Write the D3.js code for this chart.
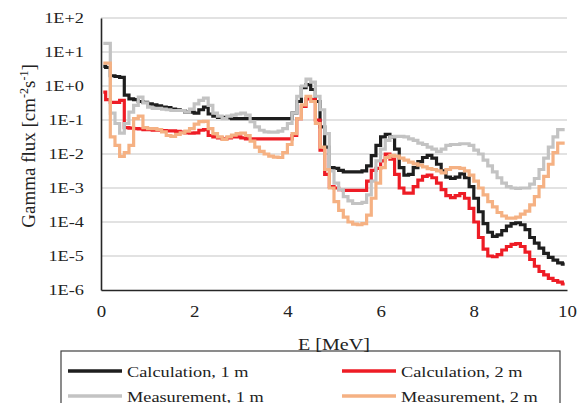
<!DOCTYPE html>
<html>
<head>
<meta charset="utf-8">
<script src="https://cdn.jsdelivr.net/npm/d3@7"></script>
<style>
  body { margin: 0; background: #fff; }
  svg text { font-family: "Liberation Serif", "Times New Roman", serif; fill: #222; }
</style>
</head>
<body>
<svg id="chart" width="581" height="403"></svg>
<script>
// bin lower edges [MeV], 0.1 MeV wide (first bin starts at 0.05)
const binStart = [0.05].concat(d3.range(1, 100).map(i => i / 10));
const binEnd = 9.95;

// gamma flux [cm-2 s-1] per bin
const calc1m = [
  3.8, 3.5, 2.0, 1.9, 1.8, 0.54, 0.42, 0.40, 0.35, 0.33,
  0.30, 0.28, 0.26, 0.24, 0.23, 0.21, 0.20, 0.19, 0.17, 0.17,
  0.16, 0.20, 0.24, 0.15, 0.13, 0.12, 0.12, 0.115, 0.11, 0.11,
  0.11, 0.11, 0.11, 0.11, 0.11, 0.11, 0.11, 0.11, 0.11, 0.11,
  0.11, 0.16, 0.35, 0.89, 1.1, 0.79, 0.35, 0.063, 0.016, 0.004,
  0.0038, 0.0033, 0.0030, 0.0030, 0.0030, 0.0030, 0.0032, 0.0045, 0.0089, 0.018,
  0.032, 0.038, 0.032, 0.014, 0.004, 0.0024, 0.0025, 0.004, 0.006, 0.0079,
  0.0091, 0.0076, 0.005, 0.0032, 0.0021, 0.0019, 0.0021, 0.0026, 0.002, 0.0011,
  5.0e-4, 2.0e-4, 8.9e-5, 5.0e-5, 3.8e-5, 4.2e-5, 5.6e-5, 7.6e-5, 8.9e-5, 9.5e-5,
  8.3e-5, 6.0e-5, 3.5e-5, 2.4e-5, 1.7e-5, 1.2e-5, 9.1e-6, 7.6e-6, 6.3e-6, 5.8e-6
];
const calc2m = [
  0.66, 0.40, 0.33, 0.33, 0.38, 0.060, 0.058, 0.056, 0.055, 0.052,
  0.052, 0.050, 0.050, 0.049, 0.048, 0.048, 0.046, 0.044, 0.042, 0.041,
  0.042, 0.050, 0.052, 0.035, 0.032, 0.030, 0.028, 0.030, 0.032, 0.032,
  0.030, 0.028, 0.028, 0.028, 0.028, 0.028, 0.028, 0.028, 0.028, 0.028,
  0.028, 0.035, 0.11, 0.25, 0.42, 0.40, 0.10, 0.013, 0.0025, 0.0011,
  0.0010, 8.9e-4, 8.5e-4, 8.5e-4, 8.5e-4, 8.5e-4, 8.5e-4, 0.0016, 0.0033, 0.0038,
  0.0063, 0.010, 0.0071, 0.0025, 0.0010, 7.1e-4, 7.1e-4, 0.0011, 0.0017, 0.0022,
  0.0024, 0.0020, 0.0014, 8.9e-4, 6.0e-4, 5.2e-4, 6.0e-4, 6.9e-4, 5.0e-4, 2.5e-4,
  1.0e-4, 3.5e-5, 1.6e-5, 1.0e-5, 9.5e-6, 1.1e-5, 1.5e-5, 1.9e-5, 2.2e-5, 2.3e-5,
  1.9e-5, 1.3e-5, 7.9e-6, 5.0e-6, 3.5e-6, 2.8e-6, 2.2e-6, 1.9e-6, 1.7e-6, 1.5e-6
];
const meas1m = [
  18, 18, 0.16, 0.079, 0.041, 0.079, 0.17, 0.27, 0.47, 0.32,
  0.24, 0.22, 0.22, 0.21, 0.20, 0.19, 0.19, 0.19, 0.17, 0.21,
  0.30, 0.38, 0.44, 0.27, 0.16, 0.13, 0.11, 0.13, 0.14, 0.15,
  0.16, 0.14, 0.089, 0.063, 0.050, 0.045, 0.044, 0.044, 0.047, 0.056,
  0.079, 0.16, 0.50, 1.0, 1.6, 1.3, 0.50, 0.20, 0.040, 0.0032,
  0.0014, 8.9e-4, 5.6e-4, 4.2e-4, 3.5e-4, 3.5e-4, 3.8e-4, 6.3e-4, 0.0016, 0.0063,
  0.014, 0.025, 0.032, 0.033, 0.033, 0.032, 0.028, 0.025, 0.021, 0.019,
  0.016, 0.014, 0.012, 0.014, 0.018, 0.019, 0.019, 0.020, 0.020, 0.018,
  0.013, 0.010, 0.0066, 0.0045, 0.0030, 0.0020, 0.0014, 0.0011, 0.0010, 9.8e-4,
  0.0010, 0.0010, 0.0013, 0.0019, 0.0035, 0.0076, 0.016, 0.032, 0.052, 0.052
];
const meas2m = [
  4.7, 4.7, 0.032, 0.018, 0.0085, 0.011, 0.018, 0.11, 0.13, 0.060,
  0.056, 0.056, 0.052, 0.045, 0.035, 0.033, 0.038, 0.042, 0.047, 0.056,
  0.076, 0.089, 0.091, 0.056, 0.040, 0.032, 0.027, 0.032, 0.036, 0.040,
  0.041, 0.035, 0.024, 0.016, 0.012, 0.010, 0.0087, 0.0081, 0.0079, 0.011,
  0.019, 0.040, 0.11, 0.28, 0.50, 0.35, 0.079, 0.016, 0.0035, 0.0010,
  4.0e-4, 2.2e-4, 1.4e-4, 1.0e-4, 8.7e-5, 8.3e-5, 8.9e-5, 1.6e-4, 5.0e-4, 0.0014,
  0.0040, 0.0079, 0.0091, 0.0087, 0.0076, 0.0066, 0.0058, 0.0051, 0.0047, 0.0042,
  0.0037, 0.0035, 0.0032, 0.0028, 0.0035, 0.0040, 0.0040, 0.0038, 0.0032, 0.0024,
  0.0016, 0.0010, 6.3e-4, 4.0e-4, 2.8e-4, 1.9e-4, 1.5e-4, 1.3e-4, 1.3e-4, 1.4e-4,
  1.7e-4, 2.1e-4, 3.2e-4, 5.6e-4, 0.0011, 0.0022, 0.0050, 0.011, 0.021, 0.021
];

const xTicks = [0, 2, 4, 6, 8, 10];
const yTicks = [1e2, 1e1, 1e0, 1e-1, 1e-2, 1e-3, 1e-4, 1e-5, 1e-6];
const yTickLabels = ["1E+2", "1E+1", "1E+0", "1E-1", "1E-2", "1E-3", "1E-4", "1E-5", "1E-6"];

const series = [
  { name: "Calculation, 1 m", values: calc1m, color: "#1e1e1e" },
  { name: "Calculation, 2 m", values: calc2m, color: "#ee1c25" },
  { name: "Measurement, 1 m", values: meas1m, color: "#c3c3c3" },
  { name: "Measurement, 2 m", values: meas2m, color: "#f5b183" }
];

const margin = { top: 18, left: 101, right: 14, bottom: 113 };
const width = 581 - margin.left - margin.right;
const height = 403 - margin.top - margin.bottom;

// the source figure's text is a bit wider than Liberation Serif at the same height
const stretch = 1.18;
function widen(sel) {
  sel.each(function() {
    const w = this.getComputedTextLength();
    d3.select(this).attr("textLength", w * stretch).attr("lengthAdjust", "spacingAndGlyphs");
  });
}

const svg = d3.select("#chart");
const g = svg.append("g").attr("transform", `translate(${margin.left},${margin.top})`);

const x = d3.scaleLinear().domain([0, 10]).range([0, width]);
const y = d3.scaleLog().domain([1e-6, 1e2]).range([height, 0]);

// horizontal gridlines
g.selectAll(".grid")
  .data(yTicks.slice(0, -1))
  .enter().append("line")
  .attr("class", "grid")
  .attr("x1", 0).attr("x2", width)
  .attr("y1", d => y(d)).attr("y2", d => y(d))
  .attr("stroke", "#d9d9d9")
  .attr("stroke-width", 1.5);

// y axis
const yAxis = d3.axisLeft(y).tickValues(yTicks).tickSize(0).tickPadding(17)
  .tickFormat((d, i) => yTickLabels[i]);
const yg = g.append("g").call(yAxis);
yg.select(".domain").attr("stroke", "#262626").attr("stroke-width", 1.6);
yg.selectAll("text").attr("font-size", 15.5).attr("font-family", "Liberation Serif").attr("fill", "#222").call(widen);

// x axis
const xAxis = d3.axisBottom(x).tickValues(xTicks).tickSize(0).tickPadding(16);
const xg = g.append("g").attr("transform", `translate(0,${height})`).call(xAxis);
xg.select(".domain").attr("stroke", "#262626").attr("stroke-width", 1.6);
xg.selectAll("text").attr("font-size", 16).attr("font-family", "Liberation Serif").attr("fill", "#222").call(widen);

// step lines
const line = d3.line()
  .x(d => x(d.e))
  .y(d => y(d.v))
  .curve(d3.curveStepAfter);

series.forEach(s => {
  const pts = s.values.map((v, i) => ({ e: binStart[i], v: v }));
  pts.push({ e: binEnd, v: s.values[s.values.length - 1] });
  g.append("path")
    .datum(pts)
    .attr("fill", "none")
    .attr("stroke", s.color)
    .attr("stroke-width", 3.2)
    .attr("stroke-linejoin", "miter")
    .attr("d", line);
});

// y axis title
svg.append("text")
  .attr("transform", `translate(35,${margin.top + 128}) rotate(-90)`)
  .attr("text-anchor", "middle")
  .attr("font-size", 19)
  .html('Gamma flux [cm<tspan dy="-7" font-size="12">-2</tspan><tspan dy="7">s</tspan><tspan dy="-7" font-size="12">-1</tspan><tspan dy="7">]</tspan>');

// legend
const legend = svg.append("g").attr("transform", "translate(61,351)");
legend.append("rect")
  .attr("width", 499).attr("height", 70)
  .attr("fill", "#fff")
  .attr("stroke", "#404040")
  .attr("stroke-width", 1.2);

const entries = legend.selectAll(".entry")
  .data(series)
  .enter().append("g")
  .attr("class", "entry")
  .attr("transform", (d, i) => `translate(${7 + (i % 2) * 274},${20 + Math.floor(i / 2) * 25})`);

entries.append("line")
  .attr("x1", 0).attr("x2", 54)
  .attr("stroke", d => d.color)
  .attr("stroke-width", 3.5);

entries.append("text")
  .attr("x", 59).attr("y", 5.5)
  .attr("font-size", 15.5)
  .text(d => d.name)
  .call(widen);

// x axis title
svg.append("text")
  .attr("x", margin.left + width / 2)
  .attr("y", 350)
  .attr("text-anchor", "middle")
  .attr("font-size", 17)
  .text("E [MeV]")
  .call(widen);
</script>
</body>
</html>
